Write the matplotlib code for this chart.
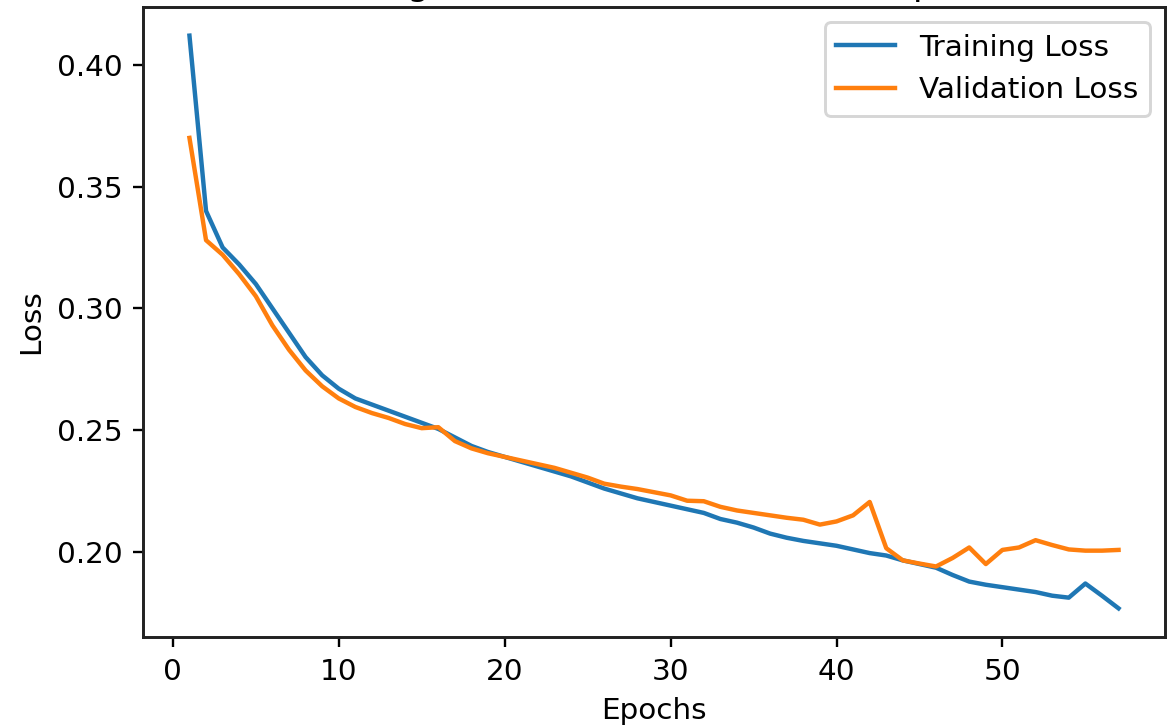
import matplotlib
matplotlib.use("Agg")
import matplotlib.pyplot as plt

# ── loss history ────────────────────────────────────────────
epochs = list(range(1, 58))

train_loss = [
    0.412, 0.340, 0.325, 0.318, 0.310, 0.300, 0.290, 0.280, 0.2725, 0.267,
    0.263, 0.2605, 0.258, 0.2555, 0.253, 0.2505, 0.247, 0.2435, 0.241, 0.239,
    0.237, 0.235, 0.233, 0.231, 0.2285, 0.226, 0.224, 0.222, 0.2205, 0.219,
    0.2175, 0.216, 0.2135, 0.212, 0.210, 0.2075, 0.2058, 0.2045, 0.2035, 0.2025,
    0.201, 0.1995, 0.1985, 0.1965, 0.195, 0.1935, 0.1905, 0.1878, 0.1865, 0.1855,
    0.1845, 0.1835, 0.182, 0.1812, 0.187, 0.182, 0.1768,
]

val_loss = [
    0.370, 0.328, 0.322, 0.314, 0.305, 0.293, 0.283, 0.2745, 0.268, 0.263,
    0.2595, 0.257, 0.255, 0.2525, 0.2508, 0.2512, 0.2455, 0.2425, 0.2405, 0.239,
    0.2375, 0.236, 0.2345, 0.2325, 0.2305, 0.228, 0.2268, 0.2258, 0.2245, 0.2232,
    0.221, 0.2208, 0.2185, 0.217, 0.216, 0.215, 0.214, 0.2132, 0.2112, 0.2125,
    0.215, 0.2205, 0.2015, 0.1965, 0.1952, 0.194, 0.1975, 0.2018, 0.195, 0.2008,
    0.2018, 0.2048, 0.2028, 0.201, 0.2005, 0.2005, 0.2008,
]

# ── plot ─────────────────────────────────────────────────────
# the reference is a crop of a standard figure: only the title's
# descenders survive at the top edge
fig = plt.figure(figsize=(1173 / 212.4, 728 / 212.4), dpi=212.4)
ax = fig.add_axes([143 / 1173, 91 / 728, 1022 / 1173, 630 / 728])

ax.plot(epochs, train_loss, label="Training Loss")
ax.plot(epochs, val_loss, label="Validation Loss")
ax.set_title("Training and Validation Loss Over Epochs", pad=4)
ax.set_xlabel("Epochs")
ax.set_ylabel("Loss")
ax.legend(loc="upper right")
for s in ax.spines.values():
    s.set_linewidth(1.0)
    s.set_color("#222222")

fig.savefig("out.png", dpi=212.4)
